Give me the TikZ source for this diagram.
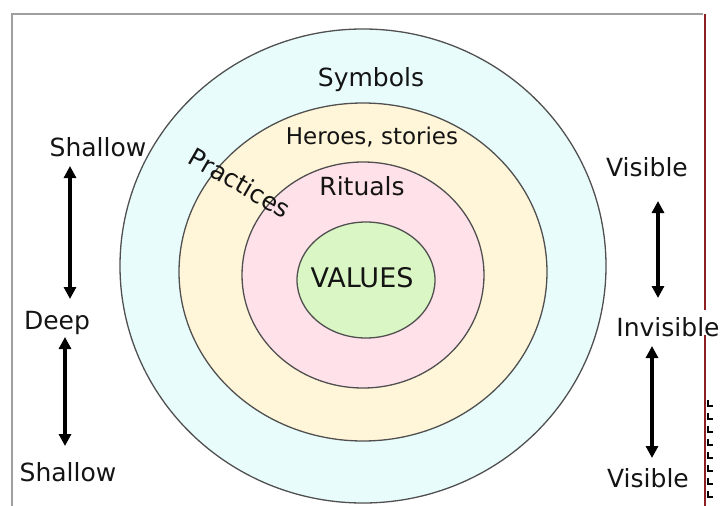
\documentclass[tikz,border=0pt]{standalone}
\usepackage{fontspec}
\setmainfont{DejaVu Sans}
\usetikzlibrary{arrows.meta}

\definecolor{ringline}{HTML}{505050}
\definecolor{symfill}{HTML}{E9FCFC}
\definecolor{herofill}{HTML}{FFF5D8}
\definecolor{ritfill}{HTML}{FFE1EA}
\definecolor{valfill}{HTML}{DAF6C4}
\definecolor{edgered}{HTML}{8E1F22}

\begin{document}
\begin{tikzpicture}[x=1pt,y=-1pt,>={Triangle[length=12pt,width=12pt]},
  ring/.style={draw=ringline,line width=1.3pt},
  lbl/.style={inner sep=0pt,text=black!92,font=\fontsize{25}{28}\selectfont},
  updown/.style={<->,line width=3.2pt}]
  \useasboundingbox (0,0) rectangle (721,506);

  % frame of the slide
  \draw[gray!75,line width=1.8pt] (12,506) -- (12,14) -- (703,14);
  \draw[edgered,line width=2.6pt] (705,14) -- (705,310)
    (705,335) -- (705,506);
  \foreach \y in {400,413,...,496}
    \draw[black,line width=1.3pt] (708,\y) -- (708,\y+6) -- (713,\y+6);

  % the four layers
  \draw[ring,fill=symfill] (363,266) ellipse [x radius=243,y radius=237];
  \draw[ring,fill=herofill] (363,272) ellipse [x radius=184,y radius=169];
  \draw[ring,fill=ritfill] (363,275) ellipse [x radius=121,y radius=113];
  \draw[ring,fill=valfill] (366,280) ellipse [x radius=69,y radius=58];

  \node[lbl] (symbols) at (371,80) {Symbols};
  \node[lbl,font=\fontsize{23}{26}\selectfont] (heroes) at (372,137)
    {Heroes, stories};
  \node[lbl] (rituals) at (362,186) {Rituals};
  \node[lbl,rotate=-30] (practices) at (240,183) {Practices};
  \node[lbl,font=\fontsize{27}{30}\selectfont] (values) at (362,278)
    {VALUES};

  % depth on the left
  \node[lbl] (shallowtop) at (98,147) {Shallow};
  \node[lbl] (deep) at (57,323) {Deep};
  \node[lbl] (shallowbot) at (68,472) {Shallow};
  \coordinate (la) at (70,166);
  \coordinate (lb) at (70,299);
  \coordinate (lc) at (65,337);
  \coordinate (ld) at (65,446);
  \draw[updown] (la) -- (lb);
  \draw[updown] (lc) -- (ld);

  % visibility on the right
  \node[lbl] (visibletop) at (647,167) {Visible};
  \node[lbl] (invisible) at (668,327) {Invisible};
  \node[lbl] (visiblebot) at (648,478) {Visible};
  \coordinate (ra) at (658,201);
  \coordinate (rb) at (658,298);
  \coordinate (rc) at (652,346);
  \coordinate (rd) at (652,458);
  \draw[updown] (ra) -- (rb);
  \draw[updown] (rc) -- (rd);
\end{tikzpicture}
\end{document}
